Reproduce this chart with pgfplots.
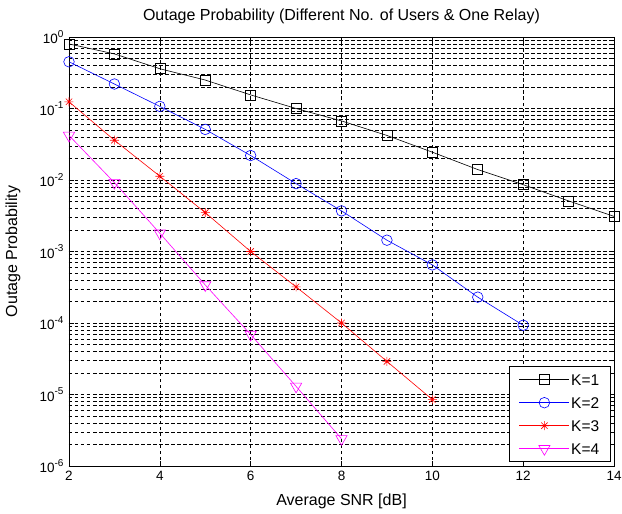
\documentclass[border=0pt]{standalone}
\usepackage{pgfplots}
\pgfplotsset{compat=1.18}
\usepackage{fontspec}
\setmainfont{Liberation Sans}
\newcommand{\ee}[1]{10\raisebox{6.5pt}{\fontsize{10}{11}\selectfont #1}}
\pgfdeclareplotmark{mstar}{%
  \pgfpathmoveto{\pgfqpoint{-\pgfplotmarksize}{0pt}}\pgfpathlineto{\pgfqpoint{\pgfplotmarksize}{0pt}}%
  \pgfpathmoveto{\pgfqpoint{0pt}{-\pgfplotmarksize}}\pgfpathlineto{\pgfqpoint{0pt}{\pgfplotmarksize}}%
  \pgfpathmoveto{\pgfqpoint{-0.707\pgfplotmarksize}{-0.707\pgfplotmarksize}}\pgfpathlineto{\pgfqpoint{0.707\pgfplotmarksize}{0.707\pgfplotmarksize}}%
  \pgfpathmoveto{\pgfqpoint{-0.707\pgfplotmarksize}{0.707\pgfplotmarksize}}\pgfpathlineto{\pgfqpoint{0.707\pgfplotmarksize}{-0.707\pgfplotmarksize}}%
  \pgfusepathqstroke}
\definecolor{mmag}{rgb}{1,0,1}
\begin{document}
\begin{tikzpicture}
\begin{semilogyaxis}[
  scale only axis,
  width=545pt, height=429pt,
  xmin=2, xmax=14, ymin=1e-6, ymax=1,
  xtick={2,4,...,14},
  ytick={1e-6,1e-5,1e-4,1e-3,1e-2,1e-1,1},
  yticklabels={\ee{-6},\ee{-5},\ee{-4},\ee{-3},\ee{-2},\ee{-1},\ee{0}},
  /pgf/number format/assume math mode=true,
  tick label style={font=\fontsize{13.5}{15}\selectfont},
  xticklabel style={yshift=-2pt},
  yticklabel style={xshift=-2pt},
  title style={font=\fontsize{16}{18}\selectfont, at={(axis description cs:0.5,1.033)}, anchor=center},
  xlabel style={font=\fontsize{16}{18}\selectfont, at={(axis description cs:0.5,-0.0816)}, anchor=center},
  ylabel style={font=\fontsize{16}{18}\selectfont, at={(axis description cs:-0.103,0.5)}, anchor=center},
  title={Outage Probability (Different No. of Users \& One Relay)},
  xlabel={Average SNR [dB]},
  ylabel={Outage Probability},
  tick align=inside,
  major tick length=5pt, minor tick length=3pt,
  tick style={black, line width=0.6pt},
  grid=both,
  major grid style={black, dash pattern=on 3.5pt off 2.5pt, line width=0.6pt},
  minor grid style={black, dash pattern=on 3.5pt off 2.5pt, line width=0.6pt},
  minor x tick num=0,
  axis line style={black, line width=0.7pt},
  legend style={at={(1,0)}, anchor=south east, xshift=-3pt, yshift=4pt,
    font=\fontsize{15.5}{17}\selectfont, draw=black, line width=0.6pt, fill=white,
    inner xsep=10pt, inner ysep=6pt, row sep=9pt,
    nodes={inner sep=1.5pt, text height=11pt, text depth=0pt}},
  legend cell align=left,
  legend image code/.code={%
    \draw[mark repeat=2, mark phase=2] plot coordinates {(0pt,0pt) (25pt,0pt) (50pt,0pt)};},
  every axis plot/.append style={line width=0.6pt},
]
\addplot[black, mark=square, mark size=5pt] coordinates {
(2,0.80)(3,0.58)(4,0.36)(5,0.25)(6,0.155)(7,0.10)(8,0.067)(9,0.042)(10,0.0245)(11,0.014)(12,0.0086)(13,0.0051)(14,0.0031)};
\addlegendentry{K=1}
\addplot[blue, mark=o, mark size=5.3pt] coordinates {
(2,0.45)(3,0.22)(4,0.107)(5,0.051)(6,0.022)(7,0.0089)(8,0.0037)(9,0.00144)(10,0.00065)(11,0.00023)(12,9.3e-5)};
\addlegendentry{K=2}
\addplot[red, mark=mstar, mark size=4.5pt] coordinates {
(2,0.124)(3,0.036)(4,0.0113)(5,0.0035)(6,0.001)(7,0.00032)(8,1e-4)(9,2.9e-5)(10,8.5e-6)};
\addlegendentry{K=3}
\addplot[mmag, mark=triangle, mark options={rotate=180}, mark size=6.5pt] coordinates {
(2,0.042)(3,0.0092)(4,0.0018)(5,0.00034)(6,6.9e-5)(7,1.3e-5)(8,2.4e-6)};
\addlegendentry{K=4}
\end{semilogyaxis}
\pgfresetboundingbox
\useasboundingbox ([xshift=-69pt,yshift=-47pt]current axis.south west) rectangle ([xshift=8pt,yshift=37pt]current axis.north east);
\end{tikzpicture}
\end{document}
